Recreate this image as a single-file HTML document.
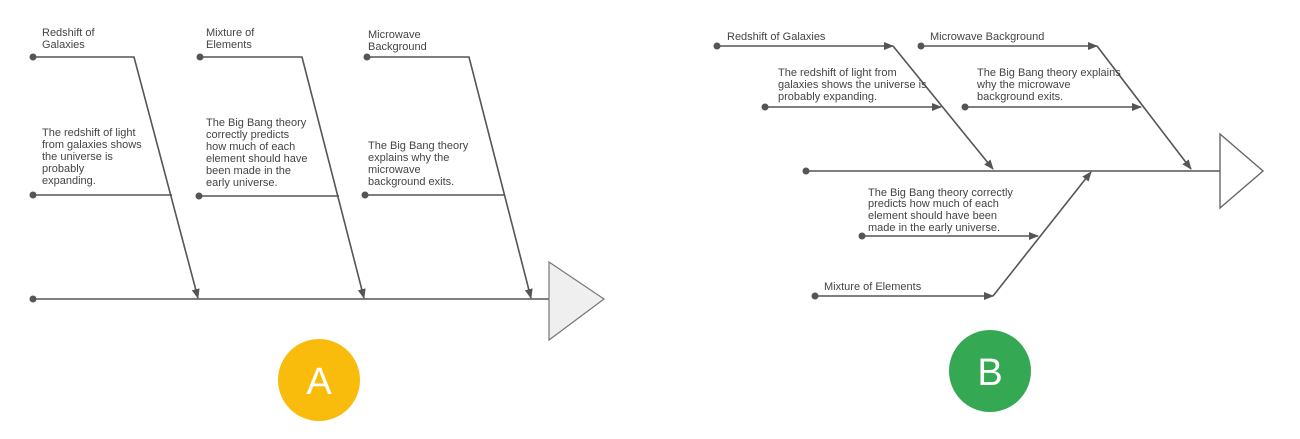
<!DOCTYPE html>
<html><head><meta charset="utf-8"><style>
html,body{margin:0;padding:0;background:#fff;}
svg{display:block;}
text{font-family:"Liberation Sans",sans-serif;font-size:11px;fill:#444;}
</style></head><body>
<svg width="1300" height="439" viewBox="0 0 1300 439" xmlns="http://www.w3.org/2000/svg">
<defs>
<marker id="ar" markerWidth="10" markerHeight="8" refX="9" refY="4" orient="auto" markerUnits="userSpaceOnUse">
<path d="M0,0 L10,4 L0,8 z" fill="#555"/>
</marker>
</defs>
<g stroke="#555" stroke-width="1.6" fill="none">
<line x1="33" y1="299" x2="550" y2="299"/>
<polyline points="33,57 134,57 198,298" marker-end="url(#ar)"/>
<polyline points="200,57 302,57 364,298" marker-end="url(#ar)"/>
<polyline points="367,57 469,57 531,298" marker-end="url(#ar)"/>
<line x1="33" y1="195" x2="172" y2="195"/>
<line x1="199" y1="196" x2="339" y2="196"/>
<line x1="365" y1="195" x2="505" y2="195"/>
<line x1="806" y1="171" x2="1220" y2="171"/>
<line x1="717" y1="46" x2="893" y2="46" marker-end="url(#ar)"/>
<line x1="893" y1="46" x2="993" y2="169" marker-end="url(#ar)"/>
<line x1="921" y1="46" x2="1097" y2="46" marker-end="url(#ar)"/>
<line x1="1097" y1="46" x2="1191" y2="169" marker-end="url(#ar)"/>
<line x1="765" y1="107" x2="941" y2="107" marker-end="url(#ar)"/>
<line x1="965" y1="107" x2="1141" y2="107" marker-end="url(#ar)"/>
<line x1="993" y1="296" x2="1091" y2="172" marker-end="url(#ar)"/>
<line x1="815" y1="296" x2="993" y2="296" marker-end="url(#ar)"/>
<line x1="862" y1="236" x2="1038" y2="236" marker-end="url(#ar)"/>
</g>
<polygon points="549,262 604,299 549,340" fill="#efefef" stroke="#777" stroke-width="1.2"/>
<polygon points="1220,134 1263,171 1220,208" fill="#fff" stroke="#666" stroke-width="1.4"/>
<g fill="#555">
<circle cx="33" cy="57" r="3.5"/><circle cx="200" cy="57" r="3.5"/><circle cx="367" cy="57" r="3.5"/>
<circle cx="33" cy="195" r="3.5"/><circle cx="199" cy="196" r="3.5"/><circle cx="365" cy="195" r="3.5"/>
<circle cx="33" cy="299" r="3.5"/>
<circle cx="717" cy="46" r="3.5"/><circle cx="921" cy="46" r="3.5"/><circle cx="765" cy="107" r="3.5"/>
<circle cx="965" cy="107" r="3.5"/><circle cx="806" cy="171" r="3.5"/><circle cx="862" cy="236" r="3.5"/>
<circle cx="815" cy="296" r="3.5"/>
</g>
<text x="42" y="36">Redshift of</text><text x="42" y="48">Galaxies</text>
<text x="206" y="36">Mixture of</text><text x="206" y="48">Elements</text>
<text x="368" y="38">Microwave</text><text x="368" y="50">Background</text>
<text x="42" y="136">The redshift of light</text>
<text x="42" y="148">from galaxies shows</text>
<text x="42" y="160">the universe is</text>
<text x="42" y="172">probably</text>
<text x="42" y="184">expanding.</text>
<text x="206" y="126">The Big Bang theory</text>
<text x="206" y="138">correctly predicts</text>
<text x="206" y="150">how much of each</text>
<text x="206" y="162">element should have</text>
<text x="206" y="174">been made in the</text>
<text x="206" y="186">early universe.</text>
<text x="368" y="149">The Big Bang theory</text>
<text x="368" y="161">explains why the</text>
<text x="368" y="173">microwave</text>
<text x="368" y="185">background exits.</text>
<text x="727" y="40">Redshift of Galaxies</text>
<text x="930" y="40">Microwave Background</text>
<text x="778" y="76">The redshift of light from</text>
<text x="778" y="88">galaxies shows the universe is</text>
<text x="778" y="100">probably expanding.</text>
<text x="977" y="76">The Big Bang theory explains</text>
<text x="977" y="88">why the microwave</text>
<text x="977" y="100">background exits.</text>
<text x="868" y="196">The Big Bang theory correctly</text>
<text x="868" y="207">predicts how much of each</text>
<text x="868" y="219">element should have been</text>
<text x="868" y="231">made in the early universe.</text>
<text x="824" y="290">Mixture of Elements</text>
<circle cx="319" cy="380" r="41" fill="#F9BC0C"/>
<text x="319" y="394" text-anchor="middle" style="font-size:38px;fill:#fff">A</text>
<circle cx="990" cy="371" r="41" fill="#35A853"/>
<text x="990" y="385" text-anchor="middle" style="font-size:38px;fill:#fff">B</text>
</svg>
</body></html>
